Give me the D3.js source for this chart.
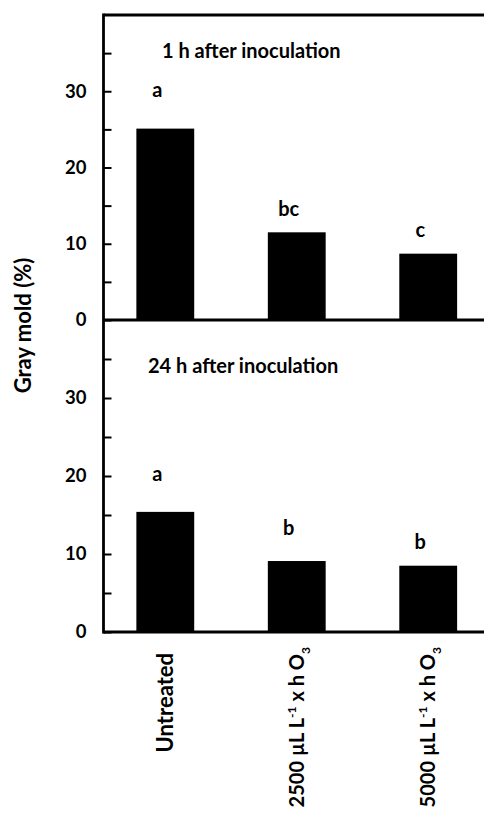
<!DOCTYPE html>
<html>
<head>
<meta charset="utf-8">
<script src="https://cdn.jsdelivr.net/npm/d3@7"></script>
<style>
    html, body { margin: 0; padding: 0; background: #fff; }
    svg text { font-family: Lato, "Open Sans", sans-serif; font-weight: bold; fill: #000; }
</style>
</head>
<body>
<svg id="chart" width="484" height="818"></svg>
<script>
// Treatments along the x axis (dose in µL L-1 x h O3, or untreated)
var treatments = ["Untreated", "2500", "5000"];

// Panel titles
var panelTitles = ["1 h after inoculation", "24 h after inoculation"];

// Gray mold incidence (%)
var mold1h = [25.1, 11.5, 8.7];
var mold24h = [15.4, 9.1, 8.5];

// Significance letters and the value they sit above
var letters1h = ["a", "bc", "c"];
var letters24h = ["a", "b", "b"];
var letterAt1h = [29.3, 13.6, 10.85];
var letterAt24h = [19.3, 12.4, 10.6];

// Y axis ticks
var yTicks = [0, 5, 10, 15, 20, 25, 30, 35];
var yMax = 40;

var svg = d3.select('svg#chart');

var left = 103.5;
var right = 490;
var top1 = 15, base1 = 320;
var top2 = 320, base2 = 632;

var x = d3.scaleBand()
    .domain(treatments)
    .range([left, right])
    .paddingInner(0.56)
    .paddingOuter(0.25);

/**
 * Draw one panel: axis ticks, bars, letters and title.
 */
function drawPanel(values, letters, letterAt, title, yTop, yBase, titlePos) {
    var y = d3.scaleLinear().domain([0, yMax]).range([yBase, yTop]);
    var g = svg.append('g');

    var axis = d3.axisLeft(y)
        .tickValues(yTicks)
        .tickSizeInner(-8)
        .tickSizeOuter(0)
        .tickPadding(17)
        .tickFormat(function(d) { return d % 10 === 0 ? d : ''; });

    var ax = g.append('g')
        .attr('transform', 'translate(' + left + ',0)')
        .call(axis);
    ax.select('.domain').remove();
    ax.selectAll('.tick line').attr('stroke', '#000').attr('stroke-width', 2);
    ax.selectAll('.tick text')
        .attr('font-family', 'Lato, sans-serif')
        .attr('font-weight', 'bold')
        .attr('font-size', 18.5)
        .attr('fill', '#000');

    g.selectAll('.bar')
        .data(values)
        .enter().append('rect')
            .attr('class', 'bar')
            .attr('x', function(d, i) { return x(treatments[i]); })
            .attr('width', x.bandwidth())
            .attr('y', function(d) { return y(d); })
            .attr('height', function(d) { return yBase - y(d); })
            .attr('fill', '#000');

    g.selectAll('.letter')
        .data(letters)
        .enter().append('text')
            .attr('class', 'letter')
            .attr('x', function(d, i) { return x(treatments[i]) + x.bandwidth() / 2 - 8; })
            .attr('y', function(d, i) { return y(letterAt[i]); })
            .attr('text-anchor', 'middle')
            .attr('font-size', 20)
            .text(function(d) { return d; });

    g.append('text')
        .attr('x', titlePos[0])
        .attr('y', titlePos[1])
        .attr('font-size', 20)
        .text(title);
}

drawPanel(mold1h, letters1h, letterAt1h, panelTitles[0], top1, base1, [162, 58]);
drawPanel(mold24h, letters24h, letterAt24h, panelTitles[1], top2, base2, [148, 372.5]);

// Frame: left axis, top border and both baselines
var frame = svg.append('g').attr('stroke', '#000').attr('stroke-width', 2.8);
frame.append('line').attr('x1', left).attr('x2', left).attr('y1', top1 - 1.4).attr('y2', base2 + 1.4);
frame.append('line').attr('x1', left).attr('x2', 484).attr('y1', top1).attr('y2', top1);
frame.append('line').attr('x1', left).attr('x2', 484).attr('y1', base1).attr('y2', base1);
frame.append('line').attr('x1', left).attr('x2', 484).attr('y1', base2).attr('y2', base2);

// Y axis title
svg.append('text')
    .attr('transform', 'translate(31,325.5) rotate(-90)')
    .attr('text-anchor', 'middle')
    .attr('font-size', 22)
    .text('Gray mold (%)');

// X axis category labels (rotated)
var xl = svg.selectAll('.xlabel')
    .data(treatments)
    .enter().append('text')
        .attr('class', 'xlabel')
        .attr('transform', function(d) {
            var top = d === 'Untreated' ? 653 : 647;
            return 'translate(' + (x(d) + x.bandwidth() / 2) + ',' + top + ') rotate(-90)';
        })
        .attr('text-anchor', 'end')
        .attr('dy', '0.35em')
        .attr('font-size', function(d) { return d === 'Untreated' ? 22 : 20; });

xl.each(function(d) {
    var t = d3.select(this);
    if (d === 'Untreated') {
        t.text(d);
        return;
    }
    t.append('tspan').text(d + ' \u00b5L L');
    t.append('tspan').attr('dy', -8).attr('font-size', 12).text('-1');
    t.append('tspan').attr('dy', 8).text(' x h O');
    t.append('tspan').attr('dy', 6).attr('font-size', 12).text('3');
});
</script>
</body>
</html>
